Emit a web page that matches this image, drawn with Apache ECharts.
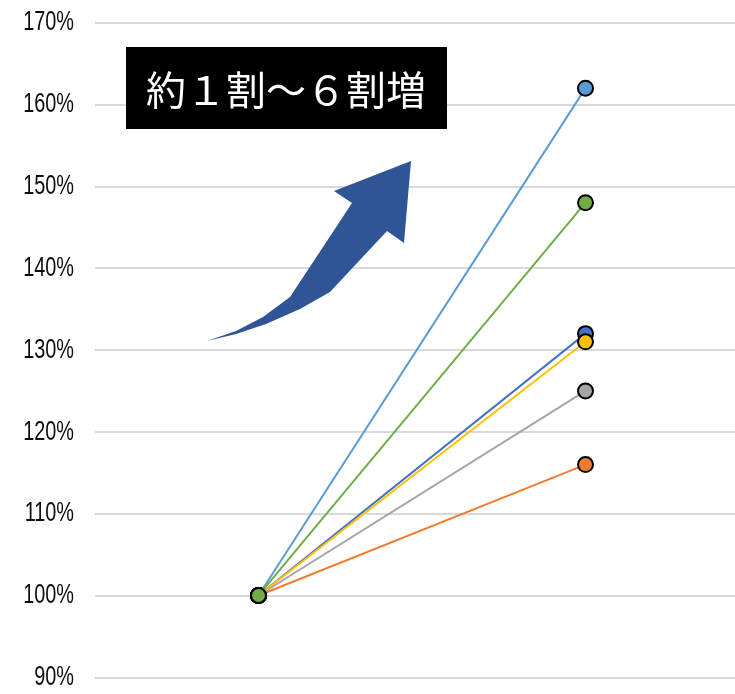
<!DOCTYPE html>
<html>
<head>
<meta charset="utf-8">
<script src="https://cdn.jsdelivr.net/npm/echarts@6/dist/echarts.min.js"></script>
<style>
html, body { margin: 0; padding: 0; background: #fff; }
#chart { width: 735px; height: 694px; }
</style>
</head>
<body>
<div id="chart"></div>
<script>
// Two time points; every series starts at 100%
const categories = ['導入前', '導入後'];
const seriesNames = ['A', 'B', 'C', 'D', 'E', 'F'];
const seriesColors = ['#4472C4', '#ED7D31', '#A5A5A5', '#FFC000', '#5B9BD5', '#70AD47'];
const valuesA = [100, 132];
const valuesB = [100, 116];
const valuesC = [100, 125];
const valuesD = [100, 131];
const valuesE = [100, 162];
const valuesF = [100, 148];
const seriesValues = [valuesA, valuesB, valuesC, valuesD, valuesE, valuesF];
const yTicks = [90, 100, 110, 120, 130, 140, 150, 160, 170];
const headline = '約１割～６割増';

const chart = echarts.init(document.getElementById('chart'));

const series = seriesValues.map((vals, i) => ({
  name: seriesNames[i],
  type: 'line',
  data: vals,
  symbol: 'circle',
  symbolSize: 15,
  lineStyle: { color: seriesColors[i], width: 2 },
  itemStyle: { color: seriesColors[i], borderColor: '#000', borderWidth: 2 },
  emphasis: { disabled: true },
  z: 2 + i
}));

// Curved rising arrow
const arrowPoints = [
  [207, 341], [236, 331], [263, 317], [290, 297], [321, 250], [352, 203],
  [334, 191], [411, 161], [404, 243], [387, 231],
  [330, 292], [300, 309], [266, 324], [236, 334]
];

chart.setOption({
  animation: false,
  backgroundColor: '#fff',
  grid: {
    left: 95, top: 22.7, width: 654, bottom: 16.7,
    containLabel: false, outerBoundsMode: 'none'
  },
  xAxis: {
    type: 'category',
    data: categories,
    boundaryGap: true,
    axisLine: { show: false },
    axisTick: { show: false },
    axisLabel: { show: false },
    splitLine: { show: false }
  },
  yAxis: {
    type: 'value',
    min: yTicks[0],
    max: yTicks[yTicks.length - 1],
    interval: yTicks[1] - yTicks[0],
    axisLine: { show: false },
    axisTick: { show: false },
    axisLabel: { show: false },
    splitLine: { lineStyle: { color: '#D9D9D9', width: 2 } }
  },
  series: series
});

// Narrow tick labels, placed on the value axis scale
const tickLabels = yTicks.map(v => ({
  type: 'text',
  x: 74,
  y: chart.convertToPixel({ yAxisIndex: 0 }, v),
  scaleX: 0.71,
  style: {
    text: v + '%',
    fill: '#0d0d0d',
    font: '28px "Liberation Sans", sans-serif',
    align: 'right',
    verticalAlign: 'middle'
  }
}));

chart.setOption({
  graphic: tickLabels.concat([
    {
      type: 'rect',
      shape: { x: 126, y: 47, width: 321, height: 82 },
      style: { fill: '#000' },
      z: 100
    },
    {
      type: 'text',
      x: 286,
      y: 90,
      style: {
        text: headline,
        fill: '#fff',
        font: '40px "Noto Sans CJK JP", sans-serif',
        align: 'center',
        verticalAlign: 'middle'
      },
      z: 101
    },
    {
      type: 'polygon',
      shape: { points: arrowPoints },
      style: { fill: '#2F5597' },
      z: 100
    }
  ])
});
</script>
</body>
</html>
